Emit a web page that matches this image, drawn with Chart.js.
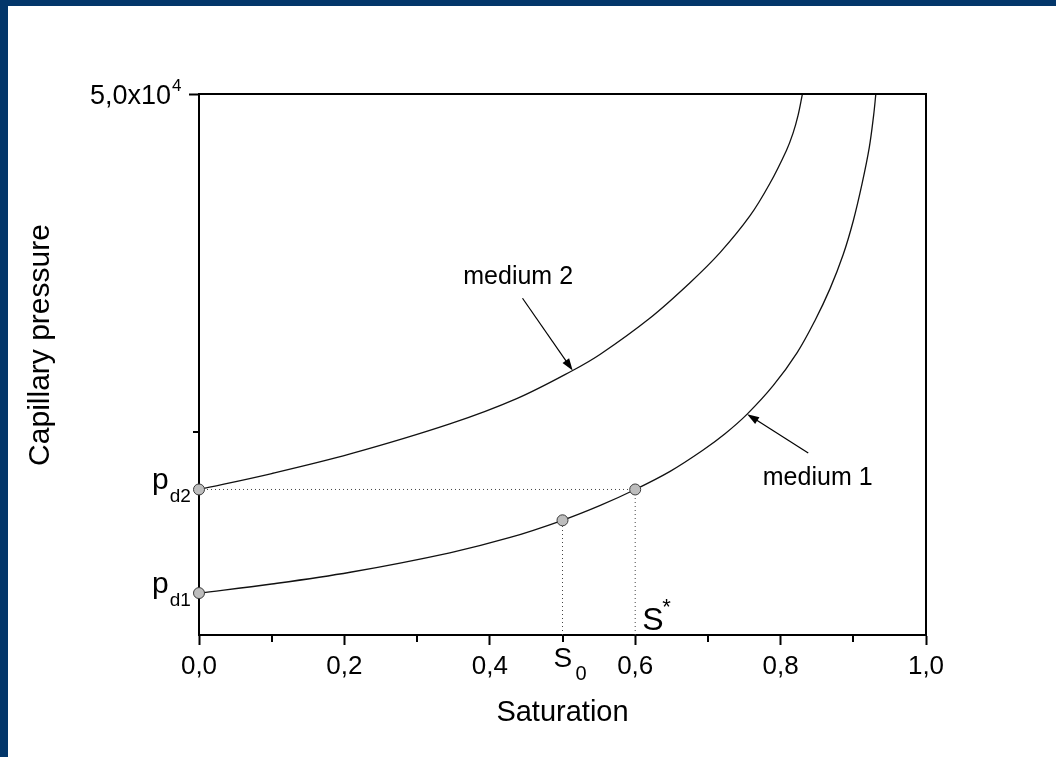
<!DOCTYPE html>
<html>
<head>
<meta charset="utf-8">
<title>Capillary pressure</title>
<script src="https://cdn.jsdelivr.net/npm/chart.js@4/dist/chart.umd.min.js"></script>
<style>
  html, body { margin: 0; padding: 0; background: #fff; }
  #wrap { position: relative; width: 1056px; height: 757px; }
</style>
</head>
<body>
<div id="wrap"><canvas id="chart" width="1056" height="757"></canvas></div>
<script>
// capillary pressure curves, saturation vs pressure
const sat1 = [0, 0.1, 0.208, 0.345, 0.428, 0.5, 0.552, 0.6, 0.648, 0.693, 0.724, 0.754, 0.79,
              0.823, 0.847, 0.868, 0.886, 0.9, 0.912, 0.922, 0.928, 0.931];
const pc1  = [13100, 13770, 14640, 16080, 17210, 18480, 19580, 20760, 22100, 23660, 24900, 26330, 28450,
              30900, 33220, 35610, 38110, 40630, 43350, 46050, 48440, 50000];
const sat2 = [0, 0.1, 0.208, 0.345, 0.437, 0.514, 0.552, 0.62, 0.675, 0.717, 0.758, 0.785,
              0.808, 0.817, 0.824, 0.83];
const pc2  = [20760, 21940, 23390, 25610, 27480, 29560, 30760, 33420, 36030, 38290, 41000, 43360,
              45830, 47090, 48420, 50000];

// entry pressures and the two marked saturations
const pd1 = 13100;
const pd2 = 20760;
const s0 = 0.5;
const p0 = 18480;
const sStar = 0.6;
const markerSat = [0, 0, s0, sStar];
const markerPc  = [pd1, pd2, p0, pd2];

// axes
const yMin = 10000;
const yMax = 50000;
const xTickLabels = ['0,0', '', '0,2', '', '0,4', '', '0,6', '', '0,8', '', '1,0'];
const yTicks = [25000, 50000];
const yTickMajor = 50000;

const FONT = "'Liberation Sans', Arial, Helvetica, sans-serif";
const CLEAR = 'rgba(0,0,0,0)';

function toXY(xs, ys) {
  return xs.map((x, i) => ({ x: x, y: ys[i] }));
}

function arrow(ctx, x0, y0, x1, y1) {
  const a = Math.atan2(y1 - y0, x1 - x0);
  const len = 12, half = 4;
  ctx.beginPath();
  ctx.moveTo(x0, y0);
  ctx.lineTo(x1 - Math.cos(a) * len * 0.8, y1 - Math.sin(a) * len * 0.8);
  ctx.stroke();
  ctx.beginPath();
  ctx.moveTo(x1, y1);
  ctx.lineTo(x1 - Math.cos(a) * len - Math.sin(a) * half, y1 - Math.sin(a) * len + Math.cos(a) * half);
  ctx.lineTo(x1 - Math.cos(a) * len + Math.sin(a) * half, y1 - Math.sin(a) * len - Math.cos(a) * half);
  ctx.closePath();
  ctx.fill();
}

// page border, box frame, minor ticks and all the hand placed text
const decorations = {
  id: 'decorations',
  beforeDraw(chart) {
    const ctx = chart.ctx;
    ctx.save();
    ctx.fillStyle = '#fff';
    ctx.fillRect(0, 0, chart.width, chart.height);
    ctx.restore();
  },
  afterDraw(chart) {
    const ctx = chart.ctx;
    const xs = chart.scales.x, ys = chart.scales.y;
    const { left, right, top, bottom } = chart.chartArea;
    const X = v => xs.getPixelForValue(v);
    const Y = v => ys.getPixelForValue(v);

    ctx.save();
    ctx.strokeStyle = '#000';
    ctx.fillStyle = '#000';

    // top and right sides of the box
    ctx.lineWidth = 2;
    ctx.beginPath();
    ctx.moveTo(left - 1, top);
    ctx.lineTo(right, top);
    ctx.lineTo(right, bottom + 1);
    ctx.stroke();

    // minor ticks
    for (let i = 1; i < 10; i += 2) {
      const px = Math.round(X(i / 10));
      ctx.beginPath();
      ctx.moveTo(px, bottom);
      ctx.lineTo(px, bottom + 7);
      ctx.stroke();
    }
    yTicks.filter(v => v !== yTickMajor).forEach(v => {
      const py = Math.round(Y(v));
      ctx.beginPath();
      ctx.moveTo(left, py);
      ctx.lineTo(left - 6, py);
      ctx.stroke();
    });

    // y tick label with exponent
    const yt = Y(yTickMajor);
    ctx.font = '27px ' + FONT;
    ctx.textBaseline = 'alphabetic';
    ctx.textAlign = 'right';
    ctx.fillText('5,0x10', 171, yt + 10);
    ctx.textAlign = 'left';
    ctx.font = '17px ' + FONT;
    ctx.fillText('4', 172, yt - 3);

    // y axis title
    ctx.save();
    ctx.translate(41, 345);
    ctx.rotate(-Math.PI / 2);
    ctx.textAlign = 'center';
    ctx.textBaseline = 'middle';
    ctx.font = '30px ' + FONT;
    ctx.fillText('Capillary pressure', 0, 0);
    ctx.restore();

    // p_d labels beside the axis
    ctx.textAlign = 'left';
    ctx.textBaseline = 'alphabetic';
    [[pd2, '2'], [pd1, '1']].forEach(([p, n]) => {
      const py = Y(p);
      ctx.font = '30px ' + FONT;
      ctx.fillText('p', 152, py);
      const w = ctx.measureText('p').width;
      ctx.font = '19px ' + FONT;
      ctx.fillText('d' + n, 152 + w + 1, py + 13);
    });

    // S0 and S* labels
    ctx.font = '28px ' + FONT;
    ctx.fillText('S', X(s0) - 9, bottom + 32);
    ctx.font = '20px ' + FONT;
    ctx.fillText('0', X(s0) + 13, bottom + 45);
    ctx.font = '32px ' + FONT;
    ctx.fillText('S', X(sStar) + 7, bottom - 5);
    ctx.font = '22px ' + FONT;
    ctx.fillText('*', X(sStar) + 27, bottom - 21);

    // curve labels with arrows
    ctx.font = '25px ' + FONT;
    ctx.textAlign = 'center';
    ctx.textBaseline = 'middle';
    ctx.fillText('medium 2', X(0.439), Y(36470));
    ctx.fillText('medium 1', X(0.851), Y(21630));
    ctx.lineWidth = 1.2;
    arrow(ctx, X(0.445), Y(34900), X(0.514), Y(29560));
    arrow(ctx, X(0.838), Y(23450), X(0.754), Y(26330));

    // page border
    ctx.fillStyle = '#03366a';
    ctx.fillRect(0, 0, 8, chart.height);
    ctx.fillRect(0, 0, chart.width, 6);
    ctx.restore();
  }
};

const curveStyle = {
  showLine: true,
  borderColor: '#111',
  borderWidth: 1.3,
  pointRadius: 0,
  tension: 0.35,
  order: 2
};

const guideStyle = {
  showLine: true,
  borderColor: '#444',
  borderWidth: 1,
  borderDash: [1, 3],
  pointRadius: 0,
  order: 3
};

const chart = new Chart(document.getElementById('chart'), {
  type: 'scatter',
  data: {
    datasets: [
      Object.assign({ label: 'medium 1', data: toXY(sat1, pc1) }, curveStyle),
      Object.assign({ label: 'medium 2', data: toXY(sat2, pc2) }, curveStyle),
      Object.assign({ label: 'pd2 level', data: toXY([0, sStar], [pd2, pd2]) }, guideStyle),
      Object.assign({ label: 'S0', data: toXY([s0, s0], [yMin, p0]) }, guideStyle),
      Object.assign({ label: 'S*', data: toXY([sStar, sStar], [yMin, pd2]) }, guideStyle),
      {
        label: 'points',
        data: toXY(markerSat, markerPc),
        pointRadius: 5.5,
        pointBackgroundColor: '#bdbdbd',
        pointBorderColor: '#3a3a3a',
        pointBorderWidth: 1,
        showLine: false,
        clip: false,
        order: 0
      }
    ]
  },
  options: {
    responsive: false,
    animation: false,
    events: [],
    layout: { padding: { top: 94, right: 130, left: 0, bottom: 0 } },
    plugins: {
      legend: { display: false },
      tooltip: { enabled: false }
    },
    scales: {
      x: {
        type: 'linear',
        min: 0,
        max: 1,
        ticks: {
          stepSize: 0.1,
          autoSkip: false,
          maxRotation: 0,
          padding: 6,
          color: '#000',
          font: { family: FONT, size: 26 },
          callback: (v, i) => xTickLabels[i]
        },
        grid: {
          drawOnChartArea: false,
          tickLength: 10,
          tickWidth: 2,
          tickColor: c => (c.index % 2 ? CLEAR : '#000')
        },
        border: { color: '#000', width: 2 },
        title: {
          display: true,
          text: 'Saturation',
          color: '#000',
          font: { family: FONT, size: 29 },
          padding: { top: 0, bottom: 27 }
        },
        afterFit: s => { s.height = 122; }
      },
      y: {
        type: 'linear',
        min: yMin,
        max: yMax,
        afterBuildTicks: s => { s.ticks = yTicks.map(v => ({ value: v })); },
        ticks: { display: false },
        grid: {
          drawOnChartArea: false,
          tickLength: 10,
          tickWidth: 2,
          tickColor: c => (c.tick && c.tick.value === yTickMajor ? '#000' : CLEAR)
        },
        border: { color: '#000', width: 2 },
        afterFit: s => { s.width = 199; }
      }
    }
  },
  plugins: [decorations]
});
</script>
</body>
</html>
